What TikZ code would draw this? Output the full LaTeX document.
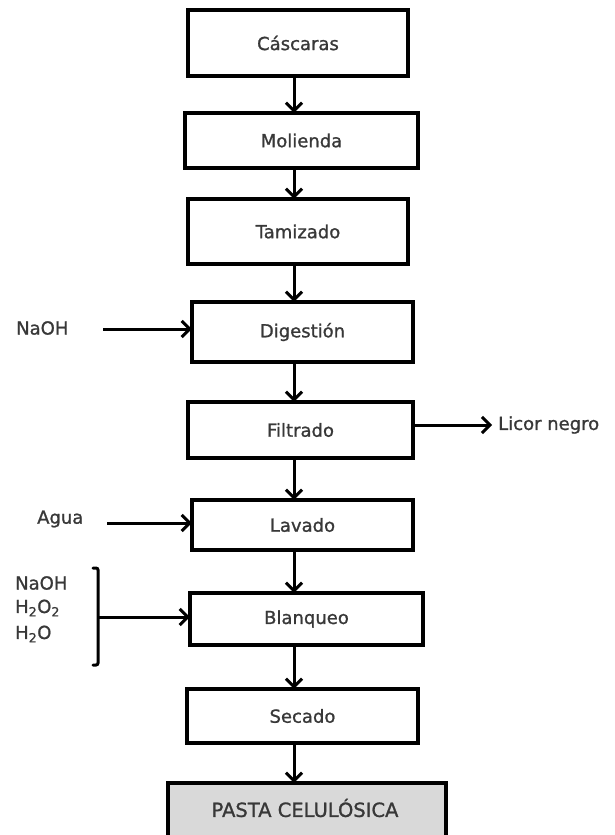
\documentclass[tikz,border=0pt]{standalone}
\usepackage{fontspec}
\setmainfont{DejaVu Sans}[FakeBold=1.1]
\usetikzlibrary{arrows.meta}
\definecolor{txt}{HTML}{383838}
\definecolor{pastafill}{HTML}{D9D9D9}
\begin{document}
\begin{tikzpicture}[x=1pt,y=-1pt,
  every node/.style={font=\fontsize{18}{21}\selectfont, text=txt},
  arr/.style={line width=3pt, -{Straight Barb[length=8pt,width=16pt]}},
  boxline/.style={draw=black, line width=3.4pt},
]
\useasboundingbox (0,0) rectangle (615,835);
% process boxes: name, left, top, right, bottom, extra style
\newcommand{\procbox}[6]{%
  \draw[boxline,#6] (#2,#3) rectangle (#4,#5);
  \node (#1) at ({(#2+#4)/2},{(#3+#5)/2}) [minimum width={#4-#2}, minimum height={#5-#3}, inner sep=0pt] {};
}
\procbox{cas}{188}{10}{408}{76}{}
\procbox{mol}{185}{113}{418}{168}{}
\procbox{tam}{188}{199}{408}{264}{}
\procbox{dig}{192}{302}{413}{362}{}
\procbox{fil}{188}{402}{413}{458}{}
\procbox{lav}{192}{500}{413}{550}{}
\procbox{bla}{190}{593}{423}{645}{}
\procbox{sec}{187}{689}{418}{743}{}
\procbox{pas}{168}{783}{446}{840}{fill=pastafill}

\node at (cas) {Cáscaras};
\node at (mol) {Molienda};
\node at (tam) {Tamizado};
\node at (dig) {Digestión};
\node at (fil) {Filtrado};
\node at (lav) {Lavado};
\node at (bla) {Blanqueo};
\node at (sec) {Secado};
\node[font=\fontsize{19.5}{22}\selectfont] at (305,808) {PASTA CELULÓSICA};

% main vertical flow
\coordinate (ax) at (294,0);
\draw[arr] (cas.south -| ax) -- (mol.north -| ax);
\draw[arr] (mol.south -| ax) -- (tam.north -| ax);
\draw[arr] (tam.south -| ax) -- (dig.north -| ax);
\draw[arr] (dig.south -| ax) -- (fil.north -| ax);
\draw[arr] (fil.south -| ax) -- (lav.north -| ax);
\draw[arr] (lav.south -| ax) -- (bla.north -| ax);
\draw[arr] (bla.south -| ax) -- (sec.north -| ax);
\draw[arr] (sec.south -| ax) -- (pas.north -| ax);

% inputs and outputs
\node[anchor=west, inner sep=0pt] (naoh) at (16,328) {NaOH};
\coordinate (naohs) at (103,329);
\draw[arr] (naohs) -- (dig.west |- naohs);

\coordinate (licors) at (fil.east |- 0,425);
\coordinate (licore) at (492,425);
\draw[arr] (licors) -- (licore);
\node[anchor=west, inner sep=0pt] (licor) at (498,425) {Licor negro};

\node[anchor=west, inner sep=0pt] (agua) at (37,519) {Agua};
\coordinate (aguas) at (107,523);
\draw[arr] (aguas) -- (lav.west |- aguas);

\node[anchor=west, inner sep=0pt] (r1) at (15,583) {NaOH};
\node[anchor=west, inner sep=0pt] (r2) at (15,608) {H\textsubscript{2}O\textsubscript{2}};
\node[anchor=west, inner sep=0pt] (r3) at (15,634) {H\textsubscript{2}O};
\draw[line width=3pt, line cap=round, rounded corners=2pt]
  (93,568) -- (98,568) -- (98,665) -- (93,665);
\coordinate (brk) at (98,617);
\draw[arr] (brk) -- (bla.west |- brk);
\end{tikzpicture}
\end{document}
